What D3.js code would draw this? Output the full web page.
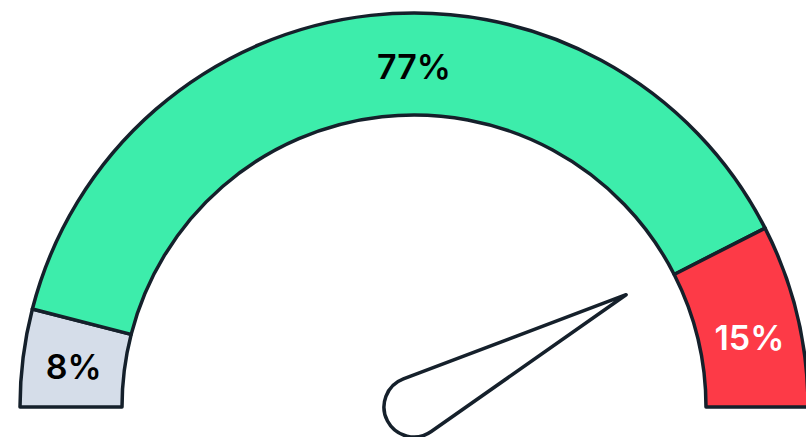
<!DOCTYPE html>
<html>
<head>
<meta charset="utf-8">
<script src="https://cdn.jsdelivr.net/npm/d3@7"></script>
<style>
  html, body { margin: 0; padding: 0; background: #ffffff; overflow: hidden; }
  #gauge { width: 806px; height: 437px; }
</style>
</head>
<body>
<div id="gauge"></div>
<script>
const labels = ["8%", "77%", "15%"];
const shares = [8, 77, 15];
const colors = ["#d5dde9", "#3dedab", "#fd3a47"];
const textColors = ["#000000", "#000000", "#ffffff"];
const labelAt = [0.04, 0.5, 0.933]; // where each label sits along the half circle
const needleValue = 0.845; // fraction of the half circle

function drawGauge(containerId) {
  const width = 806;
  const height = 437;
  const cx = 414;
  const cy = 407;
  const outerRadius = 394;
  const innerRadius = 292;
  const stroke = "#15202b";

  const data = labels.map((label, i) => ({
    label: label,
    value: shares[i],
    color: colors[i],
    textColor: textColors[i],
    at: labelAt[i],
  }));

  const svg = d3
    .select(`#${containerId}`)
    .append("svg")
    .attr("width", width)
    .attr("height", height);

  const g = svg.append("g").attr("transform", `translate(${cx}, ${cy})`);

  const pie = d3
    .pie()
    .sort(null)
    .startAngle(-Math.PI / 2)
    .endAngle(Math.PI / 2)
    .value((d) => d.value);

  const arcGeneral = d3.arc().innerRadius(innerRadius).outerRadius(outerRadius);

  // fraction of the gauge -> angle in radians (0 = left, 1 = right)
  const angle = d3.scaleLinear().domain([0, 1]).range([-Math.PI, 0]);
  const labelRadius = (innerRadius + outerRadius) / 2;

  const slice = g.selectAll(".slice").data(pie(data)).enter().append("g");

  slice
    .append("path")
    .attr("d", arcGeneral)
    .style("fill", (d) => d.data.color)
    .style("stroke", stroke)
    .style("stroke-width", 3.5)
    .style("stroke-linejoin", "round");

  slice
    .append("text")
    .attr("text-anchor", "middle")
    .attr("dominant-baseline", "central")
    .attr("transform", (d) => {
      const a = angle(d.data.at);
      const x = labelRadius * Math.cos(a);
      const y = labelRadius * Math.sin(a);
      return `translate(${x}, ${y + 2})`;
    })
    .text((d) => d.data.label)
    .style("fill", (d) => d.data.textColor)
    .style("font-family", "Inter, 'Noto Sans', sans-serif")
    .style("font-weight", 600)
    .style("font-size", "34px");

  // needle: teardrop from hub circle to tip
  const hubRadius = 30;
  const needleLength = 240;
  const phi = Math.acos(hubRadius / needleLength);
  const tx = hubRadius * Math.cos(phi);
  const ty = hubRadius * Math.sin(phi);
  const needlePath = `M${needleLength},0 L${tx},${-ty} A${hubRadius},${hubRadius} 0 1 0 ${tx},${ty} Z`;

  g.append("path")
    .attr("d", needlePath)
    .attr("transform", `rotate(${(angle(needleValue) * 180) / Math.PI})`)
    .style("fill", "#ffffff")
    .style("stroke", stroke)
    .style("stroke-width", 3.5)
    .style("stroke-linejoin", "round");
}

drawGauge("gauge");
</script>
</body>
</html>
